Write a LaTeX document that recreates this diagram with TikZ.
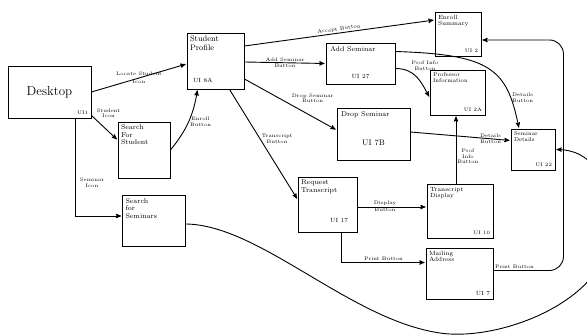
\documentclass[tikz,border=0pt]{standalone}
\usepackage{amsmath}
\usepackage{tikz}
\usetikzlibrary{arrows}

\begin{document}
\begin{tikzpicture}[>=stealth', shorten >=1pt, x=1pt, y=-1pt, line width=0.9pt,
    screen/.style={draw, rectangle, inner sep=0pt},
    title/.style={anchor=north west, align=left, inner sep=3pt, font=\fontsize{7}{7.5}\selectfont},
    uitag/.style={anchor=south east, inner sep=3pt, font=\fontsize{5}{6}\selectfont},
    hint/.style={align=center, inner sep=1pt, font=\fontsize{5}{5.5}\selectfont}]
    \useasboundingbox (0,0) rectangle (587,336);

    % screens
    \node[screen, minimum width=83, minimum height=52, font=\fontsize{13}{14}\selectfont,
          label={[uitag]south east:UI1}] (desktop) at (49.5,92) {Desktop};
    \node[screen, minimum width=52, minimum height=56,
          label={[title]north west:Search\\For\\Student}] (sstudent) at (144,150) {};
    \node[screen, minimum width=63, minimum height=51,
          label={[title]north west:Search\\for\\Seminars}] (sseminar) at (154,221) {};
    \node[screen, minimum width=57, minimum height=56,
          label={[title, font=\fontsize{8}{8.5}\selectfont]north west:Student\\Profile},
          label={[uitag, anchor=south west, font=\fontsize{6}{7}\selectfont, inner sep=6pt]south west:UI 8A}] (profile) at (215.5,61) {};
    \node[screen, minimum width=69, minimum height=41,
          label={[title, inner sep=4pt]north west:Add Seminar},
          label={[uitag, anchor=south, inner sep=5pt, font=\fontsize{6}{7}\selectfont]south:UI 27}] (addsem) at (360.5,63.5) {};
    \node[screen, minimum width=46, minimum height=44,
          label={[title, font=\fontsize{6}{6.5}\selectfont]north west:Enroll\\Summary},
          label={[uitag]south east:UI 2}] (enroll) at (458,34) {};
    \node[screen, minimum width=55, minimum height=45,
          label={[title, font=\fontsize{5.5}{6}\selectfont]north west:Professor\\Information},
          label={[uitag]south east:UI 2A}] (profinfo) at (457.5,92.5) {};
    \node[screen, minimum width=73, minimum height=52,
          label={[title, inner sep=4pt]north west:Drop Seminar},
          label={[uitag, anchor=south, inner sep=14pt, font=\fontsize{8}{9}\selectfont]south:UI 7B}] (dropsem) at (373.5,134) {};
    \node[screen, minimum width=44, minimum height=41,
          label={[title, font=\fontsize{5.5}{6}\selectfont]north west:Seminar\\Details},
          label={[uitag]south east:UI 22}] (semdet) at (533,149.5) {};
    \node[screen, minimum width=59, minimum height=55,
          label={[title]north west:Request\\Transcript},
          label={[uitag, inner sep=9pt, font=\fontsize{6}{7}\selectfont]south east:UI 17}] (request) at (327.5,204.5) {};
    \node[screen, minimum width=66, minimum height=54,
          label={[title, font=\fontsize{6}{6.5}\selectfont]north west:Transcript\\Display},
          label={[uitag]south east:UI 10}] (transdisp) at (460,211) {};
    \node[screen, minimum width=67, minimum height=51,
          label={[title, font=\fontsize{6}{6.5}\selectfont]north west:Mailing\\Address},
          label={[uitag, font=\fontsize{6}{7}\selectfont]south east:UI 7}] (mailing) at (459.5,273.5) {};

    \coordinate (bottom) at (440,333);
    \coordinate (far) at (610,230);

    % transitions
    \draw[->] (desktop.east) -- node[hint, above=1pt] {Locate Student} node[hint, below=1pt] {Icon} ([yshift=-3pt]profile.west);
    \draw[->] ([yshift=3pt]desktop.south east) -- node[hint, pos=0.15, above right] {Student\\Icon} ([yshift=10pt]sstudent.west);
    \draw[->] ([xshift=26pt]desktop.south) |- node[hint, pos=0.33, right=3pt] {Seminar\\Icon} ([yshift=5pt]sseminar.west);
    \draw[->] (sstudent.east) to[bend right=15] node[hint, right] {Enroll\\Button} ([xshift=-18pt]profile.south);
    \draw[->] ([yshift=15pt]profile.east) -- node[hint, sloped, above] {Accept Button} ([yshift=14pt]enroll.west);
    \draw[->] ([yshift=-1pt]profile.east) -- node[hint, above] {Add Seminar} node[hint, below] {Button} (addsem.west);
    \draw[->] ([yshift=-18pt]profile.east) -- node[hint, pos=0.5, above right=0pt] {Drop Seminar\\Button} ([yshift=4pt]dropsem.west);
    \draw[->] ([xshift=14pt]profile.south) -- node[hint, pos=0.45, right] {Transcript\\Button} ([yshift=5pt]request.west);
    \draw[->] ([yshift=-5pt]addsem.east) .. controls +(20,0) and +(-8,-15) .. node[hint, pos=0.3, above right=0pt] {Prof Info\\Button} ([yshift=-5pt]profinfo.west);
    \draw[->] ([yshift=12pt]addsem.east) .. controls +(95,3) and +(-12,-60) .. node[hint, pos=0.8, right] {Details\\Button} ([xshift=-14pt]semdet.north);
    \draw[->] ([yshift=2pt]dropsem.east) -- node[hint, pos=0.8, above] {Details} node[hint, pos=0.8, below] {Button} ([yshift=9pt]semdet.west);
    \draw[->] ([xshift=-4pt]transdisp.north) -- node[hint, pos=0.4, right] {Prof\\Info\\Button} ([xshift=-1.5pt]profinfo.south);
    \draw[->] ([yshift=-2.5pt]request.east) -- node[hint, pos=0.4, above] {Display} node[hint, pos=0.4, below] {Button} ([yshift=4pt]transdisp.west);
    \draw[->] ([xshift=14pt]request.south) |- node[hint, pos=0.75, above] {Print Button} ([yshift=11pt]mailing.west);
    \draw[->, rounded corners=14pt] ([yshift=3pt]mailing.east) -| node[hint, pos=0.15, above] {Print Button} ([xshift=82pt, yshift=-6pt]enroll.east) -- ([yshift=-6pt]enroll.east);
    \draw[->] ([yshift=-3pt]sseminar.east) .. controls (260,225) and (350,320) .. (bottom)
        .. controls (500,342) and (610,300) .. (far)
        .. controls (610,175) and (590,150) .. (semdet.east);
\end{tikzpicture}
\end{document}
